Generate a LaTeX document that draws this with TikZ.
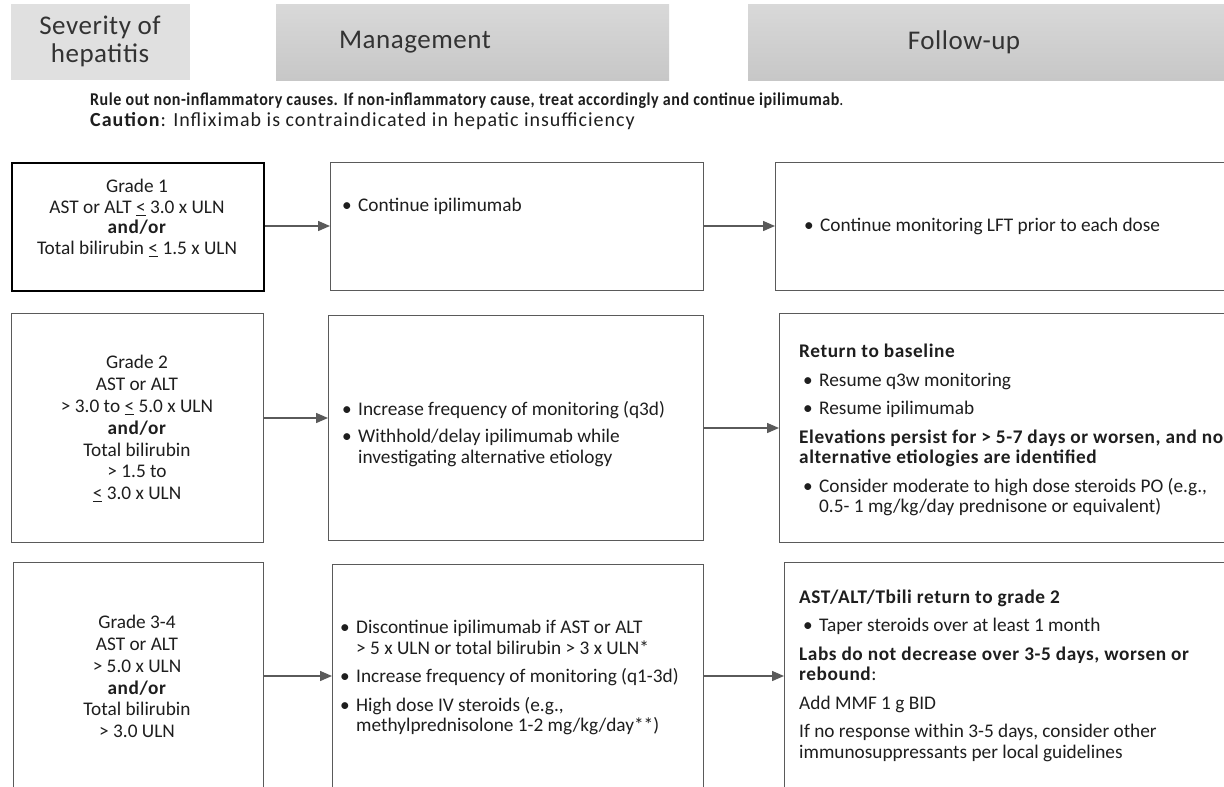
\documentclass[tikz,border=0pt]{standalone}
\usepackage{fontspec}
\setmainfont{Carlito}[BoldFeatures={LetterSpace=3}]
\newfontfamily\hdfont[LetterSpace=2]{Carlito}
\newfontfamily\narrowfont[FakeStretch=0.89,BoldFeatures={LetterSpace=3}]{Carlito}
\newfontfamily\widefont[LetterSpace=5,BoldFeatures={LetterSpace=5}]{Carlito}
\usetikzlibrary{positioning,arrows.meta}
\definecolor{lnc}{HTML}{5A5A5A}
\definecolor{txc}{HTML}{1E1E1E}
\newcommand{\itm}{\makebox[16pt][l]{\textbullet}}
\newcommand{\cnt}{\hspace*{16pt}}
\newcommand{\uleq}{\underline{<}}
\begin{document}
\begin{tikzpicture}[x=1pt,y=-1pt,font=\fontsize{19.3}{20.5}\selectfont,text=txc,>={Triangle[length=12pt,width=10pt]}]
\tikzstyle{hdr}=[anchor=north west,inner sep=0pt]
\tikzstyle{htxt}=[font=\hdfont\fontsize{27}{28}\selectfont,align=center,text=black!80]
\tikzstyle{box}=[draw=lnc,line width=1.4pt,anchor=north west,inner sep=0pt]
\tikzstyle{txt}=[align=left,anchor=west,inner sep=0pt]
\tikzstyle{ctxt}=[align=center,inner sep=0pt]
\tikzstyle{arr}=[->,draw=lnc,line width=1.4pt]
\useasboundingbox[fill=white] (0,0) rectangle (1224,787);
% headers
\node[hdr,fill=black!12,minimum width=179pt,minimum height=76pt] (h1) at (11,4) {};
\node[hdr,top color=black!15,bottom color=black!22,minimum width=393pt,minimum height=76pt] (h2) at (276,4) {};
\node[hdr,top color=black!15,bottom color=black!22,minimum width=490pt,minimum height=76pt] (h3) at (748,4) {};
\node[htxt] (h1t) at (100,41) {Severity of\\hepatitis};
\node[htxt] (h2t) at (415,42) {Management};
\node[htxt] (h3t) at (964,42) {Follow-up};
% note
\node[txt,anchor=base west] (note1) at (90,105)
{\narrowfont\fontsize{18}{20}\selectfont\textbf{Rule out non-inflammatory causes. If non-inflammatory cause, treat accordingly and continue ipilimumab}.};
\node[txt,anchor=base west] (note2) at (90,126)
{\widefont\fontsize{20}{21}\selectfont\textbf{Caution}: Infliximab is contraindicated in hepatic insufficiency};
% boxes
\node[box,draw=black,line width=2pt,minimum width=252pt,minimum height=128pt] (a1) at (11,162) {};
\node[box,minimum width=373pt,minimum height=128pt] (b1) at (330,162) {};
\node[box,minimum width=470pt,minimum height=128pt] (c1) at (775,162) {};
\node[box,minimum width=252pt,minimum height=229pt] (a2) at (11,313) {};
\node[box,minimum width=375pt,minimum height=225pt] (b2) at (328,315) {};
\node[box,minimum width=470pt,minimum height=229pt] (c2) at (779,313) {};
\node[box,minimum width=250pt,minimum height=240pt] (a3) at (13,562) {};
\node[box,minimum width=371pt,minimum height=240pt] (b3) at (332,564) {};
\node[box,minimum width=460pt,minimum height=240pt] (c3) at (784,562) {};
% texts
\node[ctxt,font=\fontsize{19.3}{20.5}\selectfont] (a1t) at (137,218)
{Grade 1\\AST or ALT \uleq{} 3.0 x ULN\\\textbf{and/or}\\Total bilirubin \uleq{} 1.5 x ULN};
\node[ctxt,font=\fontsize{19.3}{21.8}\selectfont] (a2t) at (137,428.5)
{Grade 2\\AST or ALT\\> 3.0 to \uleq{} 5.0 x ULN\\\textbf{and/or}\\Total bilirubin\\> 1.5 to\\\uleq{} 3.0 x ULN};
\node[ctxt,font=\fontsize{19.3}{21.8}\selectfont] (a3t) at (137,676.5)
{Grade 3-4\\AST or ALT\\> 5.0 x ULN\\\textbf{and/or}\\Total bilirubin\\> 3.0 ULN};
\node[txt] (b1t) at (342,206) {\itm Continue ipilimumab};
\node[txt] (b2t) at (342,434)
{\itm Increase frequency of monitoring (q3d)\\[7pt]
\itm Withhold/delay ipilimumab while\\\cnt investigating alternative etiology};
\node[txt] (b3t) at (340,677.5)
{\itm Discontinue ipilimumab if AST or ALT\\\cnt > 5 x ULN or total bilirubin > 3 x ULN*\\[8pt]
\itm Increase frequency of monitoring (q1-3d)\\[8pt]
\itm High dose IV steroids (e.g.,\\\cnt methylprednisolone 1-2 mg/kg/day**)};
\node[txt] (c1t) at (804,226) {\itm Continue monitoring LFT prior to each dose};
\node[txt] (c2t) at (799,430)
{\textbf{Return to baseline}\\[8pt]
\hspace*{4pt}\itm Resume q3w monitoring\\[8pt]
\hspace*{4pt}\itm Resume ipilimumab\\[8pt]
\textbf{Elevations persist for > 5-7 days or worsen, and no}\\\textbf{alternative etiologies are identified}\\[8pt]
\hspace*{4pt}\itm Consider moderate to high dose steroids PO (e.g.,\\\hspace*{4pt}\cnt 0.5- 1 mg/kg/day prednisone or equivalent)};
\node[txt] (c3t) at (799,675.5)
{\textbf{AST/ALT/Tbili return to grade 2}\\[8pt]
\hspace*{4pt}\itm Taper steroids over at least 1 month\\[8pt]
\textbf{Labs do not decrease over 3-5 days, worsen or}\\\textbf{rebound}:\\[8pt]
Add MMF 1 g BID\\[8pt]
If no response within 3-5 days, consider other\\immunosuppressants per local guidelines};
% arrows
\coordinate (r1) at (0,226);
\coordinate (r2a) at (0,418);
\coordinate (r2b) at (0,428);
\coordinate (r3) at (0,676);
\draw[arr] (a1.east |- r1) -- (b1.west |- r1);
\draw[arr] (b1.east |- r1) -- (c1.west |- r1);
\draw[arr] (a2.east |- r2a) -- (b2.west |- r2a);
\draw[arr] (b2.east |- r2b) -- (c2.west |- r2b);
\draw[arr] (a3.east |- r3) -- (b3.west |- r3);
\draw[arr] (b3.east |- r3) -- (c3.west |- r3);
\end{tikzpicture}
\end{document}
